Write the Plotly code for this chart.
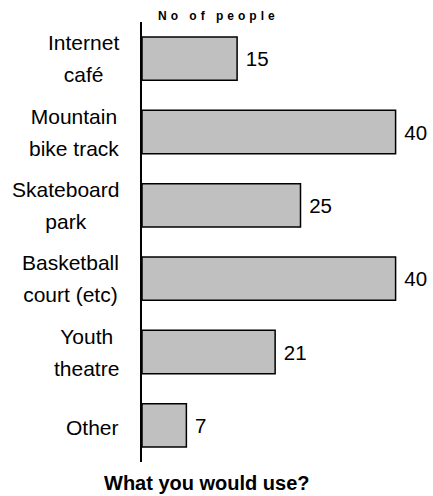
import plotly.graph_objects as go

label_line1 = ["Internet", "Mountain", "Skateboard", "Basketball", "Youth", "Other"]
label_line2 = ["café", "bike track", "park", "court (etc)", "theatre", ""]
categories = ["Internet café", "Mountain bike track", "Skateboard park",
              "Basketball court (etc)", "Youth theatre", "Other"]
people = [15, 40, 25, 40, 21, 7]

FONT = "Arial, Liberation Sans, sans-serif"
LABEL_PX = 21

fig = go.Figure()
fig.add_trace(go.Bar(
    y=categories, x=people, orientation="h",
    marker=dict(color="#c0c0c0", line=dict(color="black", width=1.5)),
    text=[str(v) for v in people],
    texttemplate=" %{text}",
    textposition="outside",
    textfont=dict(family=FONT, size=20.5, color="black"),
    cliponaxis=False,
    width=0.59,
    hoverinfo="skip",
))

def sized(s):
    return "<span style='font-size:%spx'>%s</span>" % (LABEL_PX, s)

annotations = []
for cat, l1, l2 in zip(categories, label_line1, label_line2):
    lines = [sized(l1)] + ([sized(l2)] if l2 else [])
    annotations.append(dict(
        text="<br>".join(lines), xref="paper", x=0, xanchor="right", xshift=-21,
        yref="y", y=cat, yshift=(0 if l2 else -2), showarrow=False, align="center",
        font=dict(family=FONT, size=24.6, color="black")))

top_title = "\u2004".join("No of people")
annotations.append(dict(text="<b>" + top_title + "</b>", xref="paper", x=0.255, xanchor="center",
                        yref="paper", y=1, yanchor="bottom", yshift=-3, showarrow=False,
                        font=dict(family=FONT, size=12, color="black")))
annotations.append(dict(text="<b>What you would use?</b>", xref="paper", x=0.223, xanchor="center",
                        yref="paper", y=0, yanchor="top", yshift=-8, showarrow=False,
                        font=dict(family=FONT, size=20, color="black")))

fig.update_layout(
    width=433, height=496,
    margin=dict(l=142, r=0, t=22, b=34, pad=0),
    paper_bgcolor="white", plot_bgcolor="white",
    showlegend=False,
    annotations=annotations,
    xaxis=dict(range=[0, 45.9], showgrid=False, zeroline=False, showline=False,
               showticklabels=False, ticks=""),
    yaxis=dict(categoryorder="array", categoryarray=categories, range=[5.5, -0.5],
               showgrid=False, zeroline=False, showline=True, linecolor="black",
               linewidth=1.5, showticklabels=False, ticks=""),
)

fig.write_html("out.html", config={"displayModeBar": False},
               post_script="document.body.style.margin='0';")
